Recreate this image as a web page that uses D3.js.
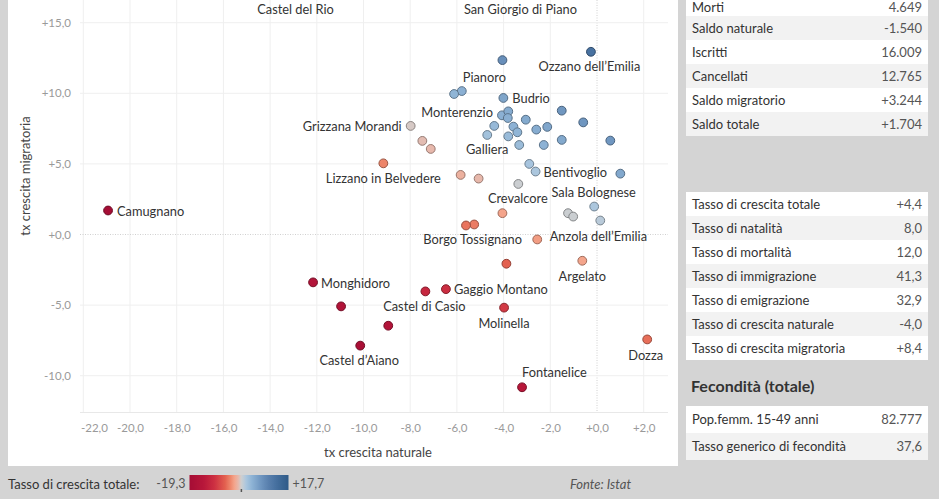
<!DOCTYPE html>
<html><head><meta charset="utf-8">
<script src="https://cdn.jsdelivr.net/npm/d3@7/dist/d3.min.js"></script>
<style>
html,body{margin:0;padding:0;background:#d4d4d4;}
svg{display:block;font-family:Lato,"Open Sans",sans-serif;}
</style></head>
<body>
<svg id="chart" width="939" height="499"></svg>
<script>
// ---------- DATA ----------
const comuni = ["Camugnano","Monghidoro","","","Castel d\u2019Aiano","Castel di Casio","Gaggio Montano","","Molinella","Fontanelice",
 "Argelato","Dozza","Anzola dell\u2019Emilia","Borgo Tossignano","","","Crevalcore","","","Sala Bolognese",
 "","Bentivoglio","","","","","Lizzano in Belvedere","Grizzana Morandi","","",
 "","Ozzano dell\u2019Emilia","Pianoro","","Budrio","Monterenzio","","","","",
 "","","Galliera","","","","","","","",
 "","","Castel del Rio","San Giorgio di Piano"];
const txNaturale = [-20.94,-12.16,-10.96,-8.94,-10.14,-7.35,-6.47,-3.88,-3.98,-3.21,
 -0.63,2.15,-2.56,-5.26,-5.61,-4.05,-3.37,-1.24,-1.02,-0.12,
 0.14,-2.63,-2.90,1.00,-5.84,-5.07,-9.15,-7.98,-7.48,-7.12,
 -4.05,-0.26,-5.79,-6.12,-4.01,-4.07,-3.80,-3.82,-3.05,-4.40,
 -3.58,-3.41,-4.70,-3.80,-2.60,-2.13,-1.51,-0.59,-1.51,0.57,
 -3.33,-2.28,-12.91,-3.28];
const txMigratoria = [1.70,-3.39,-5.09,-6.46,-7.87,-4.03,-3.87,-2.07,-5.18,-10.82,
 -1.86,-7.43,-0.35,0.71,0.64,1.51,3.58,1.51,1.27,1.98,
 0.99,4.46,5.00,4.31,4.22,3.96,5.04,7.69,6.63,6.06,
 12.35,12.94,10.16,9.95,9.67,8.44,8.72,8.25,8.13,7.69,
 7.64,7.24,7.05,6.95,7.43,7.62,8.77,7.94,6.70,6.65,
 6.34,6.34,17.0,17.0];

const xTicks = [-22,-20,-18,-16,-14,-12,-10,-8,-6,-4,-2,0,2];
const yTicks = [-10,-5,0,5,10,15];

const colorMin = -19.3, colorMax = 17.7;
const colorStopValues = [-19.3,-14,-10,-6,-4,-2.5,-1,0,1,2,4,7,10,13,17.7];
const colorStopColors = ["#a50d35","#b8173a","#cd3042","#e3604f","#ee876c","#f4a58c","#e6b9ad","#cfcfcf",
 "#bccbd8","#a8c5de","#8eb3d5","#7299c2","#5a81af","#46709f","#2e5a87"];

const table1Labels = ["Morti","Saldo naturale","Iscritti","Cancellati","Saldo migratorio","Saldo totale"];
const table1Values = ["4.649","-1.540","16.009","12.765","+3.244","+1.704"];
const table2Labels = ["Tasso di crescita totale","Tasso di natalit\u00e0","Tasso di mortalit\u00e0","Tasso di immigrazione","Tasso di emigrazione","Tasso di crescita naturale","Tasso di crescita migratoria"];
const table2Values = ["+4,4","8,0","12,0","41,3","32,9","-4,0","+8,4"];
const table3Labels = ["Pop.femm. 15-49 anni","Tasso generico di fecondit\u00e0"];
const table3Values = ["82.777","37,6"];

// label placement (anchor, dx, dy) relative to the mark
const labelPlacement = {
 "Camugnano":["start",9,1], "Monghidoro":["start",8,1], "Gaggio Montano":["start",8,0],
 "Castel di Casio":["middle",-1,15], "Castel d\u2019Aiano":["middle",-1,15], "Molinella":["middle",0,15.5],
 "Fontanelice":["start",0,-15], "Argelato":["middle",0,15.5], "Dozza":["middle",-1.5,16],
 "Anzola dell\u2019Emilia":["start",12.5,-3], "Borgo Tossignano":["middle",-1.5,15], "Crevalcore":["middle",-0.5,14.5],
 "Sala Bolognese":["middle",-0.5,-14.5], "Bentivoglio":["start",8,1.3], "Lizzano in Belvedere":["middle",0,15],
 "Grizzana Morandi":["end",-9,0.5], "Galliera":["middle",0,15], "Monterenzio":["end",-9,-3],
 "Budrio":["start",9,1], "Pianoro":["start",1,-13.6], "Ozzano dell\u2019Emilia":["middle",-1.5,15],
 "Castel del Rio":["middle",0,15], "San Giorgio di Piano":["middle",0,15]
};

// ---------- LAYOUT ----------
const svg = d3.select("#chart");
const W = 939, H = 499;
const plot = {left:80, right:668, top:0, bottom:412};

svg.append("rect").attr("width",W).attr("height",H).attr("fill","#d4d4d4");
svg.append("rect").attr("x",8).attr("y",0).attr("width",670).attr("height",466).attr("fill","#ffffff");

const x = d3.scaleLinear().domain([-20,0]).range([130,597]);
const y = d3.scaleLinear().domain([15,-10]).range([22.7,375.7]);
const color = d3.scaleLinear().domain(colorStopValues).range(colorStopColors).interpolate(d3.interpolateRgb).clamp(true);

const fmt = v => (v>=0?"+":"") + v.toFixed(1).replace(".",",");

const defs = svg.append("defs");
defs.append("clipPath").attr("id","plotclip").append("rect")
  .attr("x",plot.left).attr("y",plot.top).attr("width",plot.right-plot.left).attr("height",plot.bottom-plot.top);

// grid
const grid = svg.append("g");
grid.selectAll(".vg").data(xTicks).join("line")
  .attr("x1",d=>x(d)).attr("x2",d=>x(d)).attr("y1",plot.top).attr("y2",plot.bottom)
  .attr("stroke",d=>d===0?"#d0d0d0":"#efefef").attr("stroke-width",1)
  .attr("stroke-dasharray",d=>d===0?"1,1.5":null);
grid.selectAll(".hg").data(yTicks).join("line")
  .attr("x1",plot.left).attr("x2",plot.right).attr("y1",d=>y(d)).attr("y2",d=>y(d))
  .attr("stroke",d=>d===0?"#d0d0d0":"#efefef").attr("stroke-width",1)
  .attr("stroke-dasharray",d=>d===0?"1,1.5":null);
grid.append("line").attr("x1",plot.left).attr("x2",plot.right).attr("y1",plot.bottom+0.5).attr("y2",plot.bottom+0.5)
  .attr("stroke","#e8e8e8");

// axes
const xAxis = d3.axisBottom(x).tickValues(xTicks).tickFormat(fmt).tickSize(0).tickPadding(0);
const gx = svg.append("g").attr("transform",`translate(0,${plot.bottom+16})`).call(xAxis);
gx.select(".domain").remove();
gx.selectAll("text").attr("fill","#9a9a9a").attr("font-size","11.5px").attr("font-family","Lato,sans-serif").attr("dy","0.35em")
  .attr("text-anchor",d=>d===-22?"start":"middle").attr("x",d=>d===-22?plot.left-x(d)+0.5:0);

const yAxis = d3.axisLeft(y).tickValues(yTicks).tickFormat(fmt).tickSize(0).tickPadding(0);
const gy = svg.append("g").attr("transform",`translate(71,0)`).call(yAxis);
gy.select(".domain").remove();
gy.selectAll("text").attr("fill","#9a9a9a").attr("font-size","11.5px").attr("font-family","Lato,sans-serif");

svg.append("text").attr("transform","translate(25,176) rotate(-90)").attr("text-anchor","middle")
  .attr("dy","0.35em").attr("font-size","13px").attr("fill","#444").text("tx crescita migratoria");
svg.append("text").attr("x",378).attr("y",452).attr("text-anchor","middle")
  .attr("dy","0.35em").attr("font-size","13px").attr("fill","#444").text("tx crescita naturale");

// points
const data = comuni.map((n,i)=>({name:n, nx:txNaturale[i], my:txMigratoria[i], tot:txNaturale[i]+txMigratoria[i]}));
const pg = svg.append("g").attr("clip-path","url(#plotclip)");
pg.selectAll("circle").data(data).join("circle")
  .attr("cx",d=>x(d.nx)).attr("cy",d=>y(d.my)).attr("r",4.4)
  .attr("fill",d=>color(d.tot))
  .attr("stroke",d=>d3.color(color(d.tot)).darker(1.2))
  .attr("stroke-width",1);

const lg = svg.append("g");
lg.selectAll("text").data(data.filter(d=>d.name && labelPlacement[d.name])).join("text")
  .attr("x",d=>x(d.nx)+labelPlacement[d.name][1])
  .attr("y",d=>y(d.my)+labelPlacement[d.name][2])
  .attr("dy","0.35em")
  .attr("text-anchor",d=>labelPlacement[d.name][0])
  .attr("font-size","12.8px").attr("fill","#333")
  .text(d=>d.name);

// legend
const lgx0 = 189.5, lgx1 = 288.5;
const grad = defs.append("linearGradient").attr("id","lgrad").attr("x1","0%").attr("x2","100%");
d3.range(0,1.0001,0.01).forEach(t=>{
  grad.append("stop").attr("offset",(t*100)+"%").attr("stop-color",color(colorMin + t*(colorMax-colorMin)));
});
svg.append("text").attr("x",8).attr("y",484).attr("dy","0.35em").attr("font-size","13px").attr("fill","#333")
  .text("Tasso di crescita totale:");
svg.append("text").attr("x",lgx0-4).attr("y",484).attr("dy","0.35em").attr("text-anchor","end").attr("font-size","12.5px").attr("fill","#555")
  .text(fmt(colorMin));
svg.append("rect").attr("x",lgx0).attr("y",475).attr("width",lgx1-lgx0).attr("height",15).attr("fill","url(#lgrad)");
const lscale = d3.scaleLinear().domain([colorMin,colorMax]).range([lgx0,lgx1]);
svg.append("rect").attr("x",lscale(0)-0.5).attr("y",489).attr("width",1.5).attr("height",3).attr("fill","#555");
svg.append("text").attr("x",lgx1+4).attr("y",484).attr("dy","0.35em").attr("font-size","12.5px").attr("fill","#555")
  .text(fmt(colorMax));
svg.append("text").attr("x",570).attr("y",484).attr("dy","0.35em").attr("font-size","13px").attr("fill","#555")
  .attr("font-style","italic").text("Fonte: Istat");

// tables
function drawTable(labels, values, top, rowH, firstTop){
  const g = svg.append("g");
  labels.forEach((l,i)=>{
    const ty = top + i*rowH;
    const y0 = (i===0 && firstTop!==undefined) ? firstTop : ty;
    const h = ty + rowH - y0;
    g.append("rect").attr("x",686).attr("y",y0).attr("width",242).attr("height",h)
      .attr("fill", i%2===0 ? "#ffffff" : "#f2f2f2");
    const cy = (i===0 && firstTop!==undefined) ? Math.max(ty+rowH/2, 7) : ty+rowH/2;
    g.append("text").attr("x",692).attr("y",cy).attr("dy","0.35em").attr("font-size","13px").attr("fill","#333").text(l);
    g.append("text").attr("x",922).attr("y",cy).attr("dy","0.35em").attr("text-anchor","end")
      .attr("font-size","13px").attr("fill","#555").text(values[i]);
  });
}
drawTable(table1Labels, table1Values, -8, 24, 0);
drawTable(table2Labels, table2Values, 192, 24);
svg.append("text").attr("x",691).attr("y",386).attr("dy","0.35em").attr("font-size","16px").attr("font-weight","bold")
  .attr("fill","#333").text("Fecondit\u00e0 (totale)");
drawTable(table3Labels, table3Values, 406, 27);
</script>
</body></html>
